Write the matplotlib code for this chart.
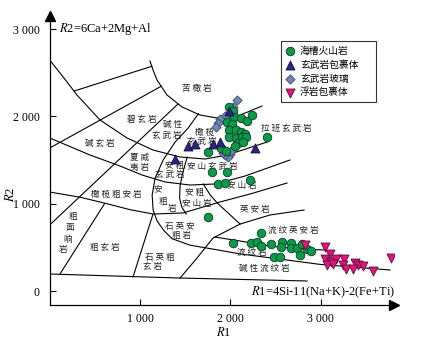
import matplotlib
matplotlib.use('Agg')
import matplotlib.pyplot as plt

plt.rcParams['font.family'] = ['Liberation Serif', 'DejaVu Serif']
plt.rcParams['mathtext.fontset'] = 'stix'
CJK = ['Noto Sans CJK SC', 'DejaVu Sans']

# ---- field boundaries (R1, R2) ----
picrite_arc = [(1110, 2635), (1144, 2531), (1188, 2417), (1299, 2245), (1465, 2108),
               (1664, 2016), (1852, 1982), (2084, 2005), (2350, 2119)]
top_box = [(269, 2290), (1130, 2574)]
arc_basalt = [(0, 2646), (158, 2440), (302, 2245), (557, 1959), (856, 1753), (1144, 1615),
              (1444, 1535), (1721, 1512), (1965, 1558), (2408, 1707)]
line_basanite = [(0, 1638), (1234, 2345)]
line_tephrite = [(0, 756), (1420, 2142)]
arc_hawaiite = [(0, 1753), (446, 1558), (778, 1432), (1022, 1329), (1277, 1249),
                (1553, 1214), (1830, 1226), (2162, 1317), (2660, 1501)]
curve_alkali = [(1644, 2028), (1533, 1867), (1389, 1707), (1256, 1501), (1167, 1294),
                (1134, 1100), (1145, 928), (1189, 802), (1266, 690), (1354, 600),
                (1554, 525), (1808, 480), (2107, 425), (2517, 370), (2993, 305), (3768, 241)]
curve_latite = [(1522, 1535), (1497, 1443), (1467, 1329), (1443, 1203), (1438, 1066),
                (1462, 962), (1511, 882)]
arc_mugearite = [(0, 1134), (335, 1075), (634, 1000), (889, 932), (1144, 882),
                 (1476, 894), (1885, 1020), (2217, 1111), (2627, 1237)]
curve_andesite = [(1700, 1226), (1777, 1100), (1855, 1008), (1976, 893), (2107, 767)]
curve_dacite = [(1443, 149), (1631, 378), (1808, 607), (2107, 767), (2440, 871), (2816, 928)]
curve_rhyodacite = [(1830, 618), (2107, 573), (2440, 515), (2772, 481), (3049, 470)]
line_bottom = [(0, 195), (1400, 150), (2850, 115)]
line_phonolite = [(114, 195), (610, 1005)]
line_qtrachyte = [(922, 160), (1144, 882)]

boundaries = [picrite_arc, top_box, arc_basalt, line_basanite, line_tephrite, arc_hawaiite,
              curve_alkali, curve_latite, arc_mugearite, curve_andesite, curve_dacite,
              curve_rhyodacite, line_bottom, line_phonolite, line_qtrachyte]

# ---- samples ----
trough_r1 = [1985, 2029, 1963, 2040, 2118, 2184, 2240, 2018, 1985, 2062, 2118, 2162, 1985, 2062,
             2129, 2173, 2084, 2140, 2051, 2405, 1896, 1952, 1752, 1797, 1963, 1863, 1941, 2218,
             1752, 2029, 2339, 2229, 2295, 2339, 2450, 2572, 2671, 2560, 2671, 2738, 2793, 2848,
             2893, 2483, 2550, 2771]
trough_r2 = [2108, 2062, 1936, 1993, 1982, 1947, 2016, 1913, 1844, 1844, 1821, 1798, 1764, 1753,
             1764, 1764, 1695, 1707, 1661, 1764, 1638, 1603, 1592, 1363, 1363, 1226, 1237, 1272,
             848, 550, 664, 550, 561, 515, 538, 561, 550, 504, 493, 493, 538, 481,
             458, 389, 389, 412]
bas_incl_r1 = [1387, 1531, 1608, 1808, 1885, 2273, 1985]
bas_incl_r2 = [1512, 1661, 1684, 1684, 1707, 1638, 2062]
bas_glass_r1 = [2073, 2029, 1996, 1941, 1885, 1863, 1841, 1930, 1963, 1996, 1974, 1941, 2007, 1918]
bas_glass_r2 = [2188, 2108, 2039, 2005, 1970, 1924, 1879, 1615, 1592, 1569, 1535, 1558, 1603, 1581]
pumice_r1 = [2826, 3047, 3103, 3047, 3114, 3169, 3070, 3136, 3258, 3247, 3280, 3380, 3413, 3357,
             3468, 3579, 3778]
pumice_r2 = [527, 504, 424, 367, 332, 367, 298, 309, 367, 298, 252, 321, 298, 252,
             286, 229, 378]

# ---- field names ----
field_names = ['苦橄岩', '碧玄岩', '碱性', '玄武岩', '橄榄', '玄武岩', '拉班玄武岩', '碱玄岩',
               '夏威', '夷岩', '安粗', '玄武岩', '安山玄武岩', '橄榄粗安岩', '安', '粗', '岩',
               '安粗', '安山岩', '安山岩', '英安岩', '石英安', '粗岩', '流纹英安岩', '流纹岩',
               '碱性流纹岩', '粗', '面', '响', '岩', '粗玄岩', '石英粗', '玄岩']
field_r1 = [1633, 1021, 1365, 1299, 1719, 1686, 2618, 557, 1000, 1000, 1387, 1325, 1797, 740,
            1199, 1255, 1354, 1608, 1631, 2129, 2273, 1443, 1465, 2693, 2240, 2373,
            258, 225, 203, 147, 612, 1221, 1144]
field_r2 = [2325, 1959, 1902, 1787, 1821, 1707, 1867, 1695, 1535, 1420, 1443, 1329, 1432, 1100,
            1168, 1031, 944, 1123, 997, 1214, 939, 735, 632, 699, 440, 255,
            859, 722, 596, 470, 504, 389, 286]

fig = plt.figure(figsize=(4.28, 3.42), dpi=100)
ax = fig.add_axes([0.1161, 0.1082, 0.8042, 0.845])
ax.set_xlim(0, 3810)
ax.set_ylim(-160, 3150)

for b in boundaries:
    ax.plot([p[0] for p in b], [p[1] for p in b], color='black', lw=0.8, zorder=2)

# labels are letter-spaced in the original
for name, x, y in zip(field_names, field_r1, field_r2):
    ax.text(x, y, ' '.join(name), family=CJK, fontsize=6.2, ha='center', va='center',
            color='#222222', zorder=3)

ax.scatter(trough_r1, trough_r2, marker='o', s=38, c='#0c9a4a', edgecolors='#0a3d22', linewidths=0.6,
           zorder=5, label='海槽火山岩')
ax.scatter(bas_incl_r1, bas_incl_r2, marker='^', s=42, c='#26267e', edgecolors='#111140', linewidths=0.6,
           zorder=6, label='玄武岩包裹体')
ax.scatter(bas_glass_r1, bas_glass_r2, marker='D', s=22, c='#6f86b4', edgecolors='#3c4a66', linewidths=0.6,
           zorder=4, label='玄武岩玻璃')
ax.scatter(pumice_r1, pumice_r2, marker='v', s=42, c='#e0157f', edgecolors='#5a1035', linewidths=0.6,
           zorder=5, label='浮岩包裹体')

leg = ax.legend(loc='upper left', bbox_to_anchor=(0.672, 0.0, 0.276, 0.912), mode='expand',
                prop={'family': CJK, 'size': 7}, frameon=True, fancybox=False, edgecolor='black',
                handletextpad=0.5, labelspacing=0.4, borderpad=0.45, handlelength=1.0,
                borderaxespad=0)
leg.get_frame().set_linewidth(0.8)

for s in ['top', 'right']:
    ax.spines[s].set_visible(False)
for s in ['left', 'bottom']:
    ax.spines[s].set_linewidth(0.9)

ax.plot([0], [1], marker='^', ms=7, color='black', transform=ax.transAxes, clip_on=False, zorder=7)
ax.plot([1], [0], marker='>', ms=7, color='black', transform=ax.transAxes, clip_on=False, zorder=7)

ax.set_xticks([1000, 2000, 3000])
ax.set_xticklabels(['1 000', '2 000', '3 000'])
ax.set_yticks([0, 1000, 2000, 3000])
ax.set_yticklabels(['0', '1 000', '2 000', '3 000'])
ax.tick_params(direction='in', length=4, width=0.8, labelsize=8.5)
ax.tick_params(axis='y', pad=7)
ax.tick_params(axis='x', pad=6)

ax.text(-432, 1110, '$R$2', rotation=90, fontsize=9, ha='center', va='center')
ax.text(1930, -470, '$R$1', fontsize=9, ha='center', va='center')
ax.text(100, 3000, '$R$2=6Ca+2Mg+Al', fontsize=9, ha='left', va='center')
ax.text(3820, -20, '$R$1=4Si-11(Na+K)-2(Fe+Ti)', fontsize=9, ha='right', va='center')

fig.savefig('out.png', dpi=100)
